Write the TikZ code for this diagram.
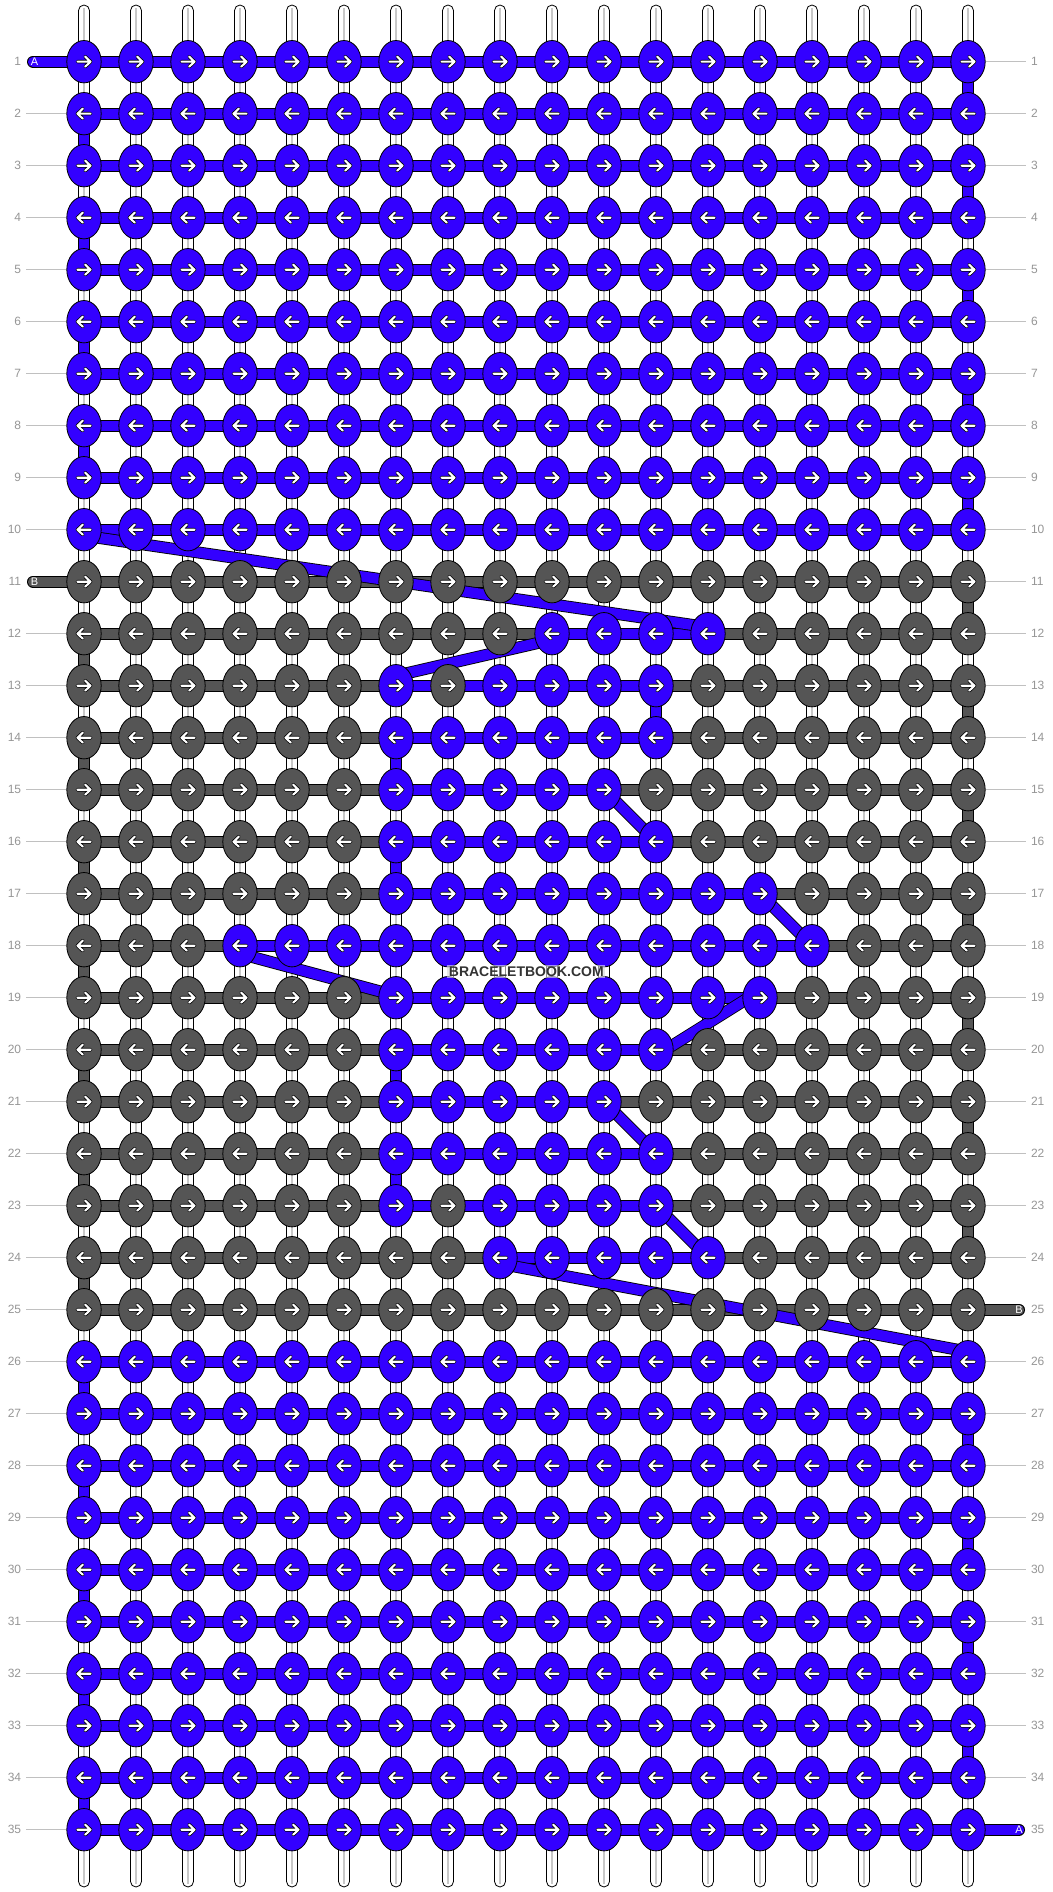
\documentclass[tikz,border=0pt]{standalone}
\usepackage{fontspec}
\setmainfont{Liberation Sans}
\usetikzlibrary{shapes.geometric}
\definecolor{cA}{RGB}{51,0,255}
\definecolor{cB}{RGB}{85,85,85}
\definecolor{lblgrey}{RGB}{150,150,150}
\definecolor{guide}{RGB}{192,192,192}
\definecolor{warpmidc}{RGB}{200,200,200}
\pgfdeclarelayer{backdrop}
\pgfdeclarelayer{strings}
\pgfsetlayers{backdrop,strings,main}
\newcommand\mystrand[3]{\draw[strandout] (#1.center) -- (#2.center); \draw[strandin,draw=#3] (#1.center) -- (#2.center);}
\newcommand\myjump[2]{\draw[strandout] (#1) -- (#2); \draw[strandin,draw=cA] (#1) -- (#2);}
\tikzset{
  knot/.style={ellipse,draw=black,line width=0.8pt,minimum width=34.4pt,minimum height=42.4pt,inner sep=0pt},
  arrR/.pic={
    \draw[black,line width=3.6pt,line cap=round,line join=round] (-6.5,0)--(6.5,0) (1.2,-5)--(6.5,0)--(1.2,5);
    \draw[white,line width=2.1pt,line cap=round,line join=round] (-6.5,0)--(6.5,0) (1.2,-5)--(6.5,0)--(1.2,5);},
  arrL/.pic={
    \draw[black,line width=3.6pt,line cap=round,line join=round] (6.5,0)--(-6.5,0) (-1.2,-5)--(-6.5,0)--(-1.2,5);
    \draw[white,line width=2.1pt,line cap=round,line join=round] (6.5,0)--(-6.5,0) (-1.2,-5)--(-6.5,0)--(-1.2,5);},
  rowlabel/.style={font=\fontsize{12}{12}\selectfont,text=lblgrey,inner sep=0pt},
  guideline/.style={draw=guide,line width=1pt},
  pilltext/.style={font=\fontsize{11}{11}\selectfont,text=white,inner sep=0pt},
  strandout/.style={line width=12pt,draw=black,line cap=round},
  strandin/.style={line width=10.3pt,line cap=round},
  warp/.style={draw=black,fill=white,line width=0.8pt,rounded corners=5.5pt},
  warpmid/.style={draw=warpmidc,line width=1.5pt},
  turn/.style={draw=black,line width=0.8pt},
  watermark/.style={font=\bfseries\fontsize{14}{14}\selectfont,text=black!80,fill=white,fill opacity=0.55,text opacity=1,inner sep=1.5pt}
}
\begin{document}
\begin{tikzpicture}[x=1pt,y=-1pt]
\begin{pgfonlayer}{backdrop}
\fill[white] (0,0) rectangle (1052,1892);
\end{pgfonlayer}
\useasboundingbox (0,0) rectangle (1052,1892);
% knots
\foreach \r/\lo/\hi/\ex in {1/1/18/0,2/1/18/0,3/1/18/0,4/1/18/0,5/1/18/0,6/1/18/0,7/1/18/0,8/1/18/0,9/1/18/0,10/1/18/0,
  11/0/0/0,12/10/13/0,13/7/12/8,14/7/12/0,15/7/11/0,16/7/12/0,17/7/14/0,18/4/15/0,19/7/14/0,20/7/12/0,21/7/11/0,22/7/12/0,23/7/12/8,24/9/13/0,25/0/0/0,
  26/1/18/0,27/1/18/0,28/1/18/0,29/1/18/0,30/1/18/0,31/1/18/0,32/1/18/0,33/1/18/0,34/1/18/0,35/1/18/0}{
  \pgfmathsetmacro\yy{61.7+(\r-1)*52}
  \foreach \c in {1,...,18}{
    \pgfmathsetmacro\xx{84+(\c-1)*52}
    \def\kc{B}
    \ifnum\c<\lo\relax\else\ifnum\c>\hi\relax\else\ifnum\c=\ex\relax\else\def\kc{A}\fi\fi\fi
    \node[knot,fill=c\kc] (k-\r-\c) at (\xx,\yy) {};
    \ifodd\r\relax \pic at (\xx,\yy) {arrR};\else \pic at (\xx,\yy) {arrL};\fi
  }
}
% row labels
\foreach \r in {1,...,35}{
  \pgfmathsetmacro\yy{61.7+(\r-1)*52}
  \node[rowlabel,anchor=east] (lab-l-\r) at (21.3,\yy) {\r};
  \node[rowlabel,anchor=west] (lab-r-\r) at (1030.8,\yy) {\r};
}
% end tags
\coordinate (pA-in) at (33,61.7);
\coordinate (pB-in) at (33,581.7);
\coordinate (pB-out) at (1019,1309.7);
\coordinate (pA-out) at (1019,1829.7);
\node[pilltext] (tag-a1) at (34.5,61.7) {A};
\node[pilltext] (tag-b11) at (34.5,581.7) {B};
\node[pilltext] (tag-b25) at (1019,1309.7) {B};
\node[pilltext] (tag-a35) at (1019,1829.7) {A};
% watermark
\node[watermark] (wm) at (526.3,971.7) {BRACELETBOOK.COM};

\begin{pgfonlayer}{strings}
% warp strings
\foreach \c in {1,...,18}{
  \pgfmathsetmacro\xx{84+(\c-1)*52}
  \draw[warp] (\xx-5.5,5) rectangle (\xx+5.5,1887);
  \draw[warpmid] (\xx,8.5) -- (\xx,1883.5);
}
% guide lines
\foreach \r in {2,...,10,12,13,...,35}{
  \pgfmathsetmacro\yy{61.7+(\r-1)*52}
  \draw[guideline] (26,\yy) -- (k-\r-1.west);
}
\foreach \r in {1,...,24,26,27,...,34}{
  \pgfmathsetmacro\yy{61.7+(\r-1)*52}
  \draw[guideline] (k-\r-18.east) -- (1026,\yy);
}
% turns
\foreach \r/\s/\c/\col in {1/2/18/cA,3/4/18/cA,5/6/18/cA,7/8/18/cA,9/10/18/cA,2/3/1/cA,4/5/1/cA,6/7/1/cA,8/9/1/cA,
  11/12/18/cB,13/14/18/cB,15/16/18/cB,17/18/18/cB,19/20/18/cB,21/22/18/cB,23/24/18/cB,
  12/13/1/cB,14/15/1/cB,16/17/1/cB,18/19/1/cB,20/21/1/cB,22/23/1/cB,24/25/1/cB,
  26/27/1/cA,28/29/1/cA,30/31/1/cA,32/33/1/cA,34/35/1/cA,27/28/18/cA,29/30/18/cA,31/32/18/cA,33/34/18/cA,
  13/14/12/cA,14/15/7/cA,16/17/7/cA,20/21/7/cA,22/23/7/cA}
  \filldraw[turn,fill=\col] ([xshift=-5.5pt]k-\r-\c.center) rectangle ([xshift=5.5pt]k-\s-\c.center);
% horizontal strands
\mystrand{pA-in}{k-1-18}{cA}
\foreach \r in {2,...,10} {\mystrand{k-\r-1}{k-\r-18}{cA}}
\mystrand{pB-in}{k-11-18}{cB}
\foreach \r in {12,...,24} {\mystrand{k-\r-1}{k-\r-18}{cB}}
\mystrand{k-25-1}{pB-out}{cB}
\foreach \r in {26,...,34} {\mystrand{k-\r-1}{k-\r-18}{cA}}
\mystrand{k-35-1}{pA-out}{cA}
\foreach \r/\a/\b in {12/10/13,13/7/12,14/7/12,15/7/11,16/7/12,17/7/14,18/4/15,19/7/14,20/7/12,21/7/11,22/7/12,23/7/12,24/9/13}
  {\mystrand{k-\r-\a}{k-\r-\b}{cA}}
% jumps of string A
\myjump{[yshift=-6pt]k-10-1.center}{[yshift=6.5pt]k-12-13.center}
\myjump{[yshift=-6pt]k-12-10.center}{[yshift=10pt]k-13-7.center}
\myjump{k-15-11.center}{k-16-12.center}
\myjump{k-17-14.center}{k-18-15.center}
\myjump{[yshift=-8pt]k-18-4.center}{[yshift=2pt]k-19-7.center}
\myjump{[yshift=7pt]k-19-14.center}{[yshift=-6pt]k-20-12.center}
\myjump{k-21-11.center}{k-22-12.center}
\myjump{k-23-12.center}{k-24-13.center}
\myjump{[yshift=-6pt]k-24-9.center}{[yshift=10pt]k-26-18.center}
\end{pgfonlayer}
\end{tikzpicture}
\end{document}
